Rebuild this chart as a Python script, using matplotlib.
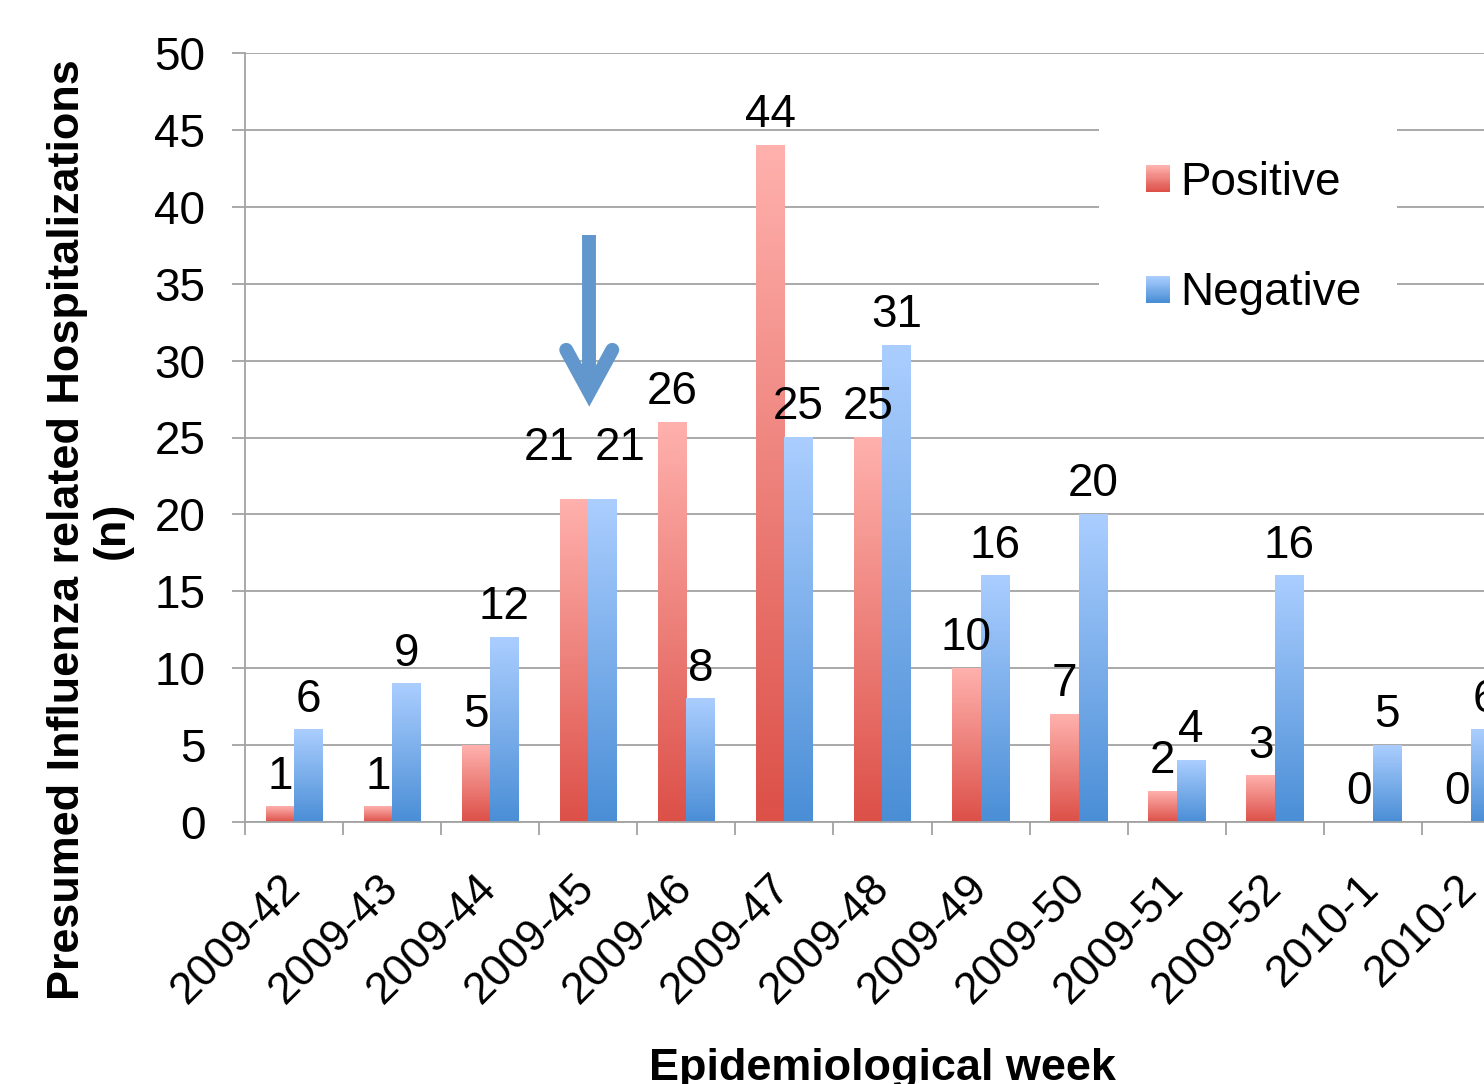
import numpy as np
import matplotlib
matplotlib.use("Agg")
import matplotlib.pyplot as plt
from matplotlib.colors import LinearSegmentedColormap, to_rgb
from matplotlib.patches import Rectangle
from matplotlib.legend_handler import HandlerBase

plt.rcParams['font.family'] = ['Liberation Sans', 'DejaVu Sans']

# ---- data -------------------------------------------------------------
weeks = ["2009-42", "2009-43", "2009-44", "2009-45", "2009-46", "2009-47",
         "2009-48", "2009-49", "2009-50", "2009-51", "2009-52", "2010-1",
         "2010-2"]
positive = [1, 1, 5, 21, 26, 44, 25, 10, 7, 2, 3, 0, 0]
negative = [6, 9, 12, 21, 8, 25, 31, 16, 20, 4, 16, 5, 6]
y_ticks = [0, 5, 10, 15, 20, 25, 30, 35, 40, 45, 50]
series_names = ["Positive", "Negative"]

# gradient colours (top, bottom) for each series
POS_TOP, POS_BOT = "#FFB1AD", "#DC5048"
NEG_TOP, NEG_BOT = "#ABCEFF", "#4A8ED6"
GRID = "#A3A3A3"
ARROW = "#6197CC"
FS = 33
TITLE_FS = 32.4

fig = plt.figure(figsize=(14.84, 10.84), dpi=100)
W, H = 1484, 1084
left, right, bottom, top = 245, 1520, 822, 53
ax = fig.add_axes([left / W, 1 - bottom / H, (right - left) / W, (bottom - top) / H])

x = np.arange(len(weeks))
bw = 0.29


def gradient_bars(bars, c_top, c_bot):
    cmap = LinearSegmentedColormap.from_list("g", [c_bot, c_top])
    grad = np.linspace(0, 1, 256).reshape(-1, 1)
    for b in bars:
        h = b.get_height()
        if h <= 0:
            continue
        x0 = b.get_x()
        ax.imshow(grad, cmap=cmap, origin="lower", aspect="auto",
                  extent=(x0, x0 + b.get_width(), 0, h), zorder=2,
                  interpolation="bilinear")


bars_pos = ax.bar(x - bw / 2, positive, bw, color="none", edgecolor="none", zorder=2)
bars_neg = ax.bar(x + bw / 2, negative, bw, color="none", edgecolor="none", zorder=2)
gradient_bars(bars_pos, POS_TOP, POS_BOT)
gradient_bars(bars_neg, NEG_TOP, NEG_BOT)

# value labels above bars (the pair at 2009-45 is spread apart)
label_offsets_pos = {3: (-18, 28)}
label_offsets_neg = {3: (13, 28)}
for i, b in enumerate(bars_pos):
    dx, dy = label_offsets_pos.get(i, (0, 13))
    ax.annotate(str(positive[i]), (b.get_x() + b.get_width() / 2, b.get_height()),
                xytext=(dx, dy), textcoords="offset points", ha="center",
                va="baseline", fontsize=FS, zorder=5, annotation_clip=False)
for i, b in enumerate(bars_neg):
    dx, dy = label_offsets_neg.get(i, (0, 13))
    ax.annotate(str(negative[i]), (b.get_x() + b.get_width() / 2, b.get_height()),
                xytext=(dx, dy), textcoords="offset points", ha="center",
                va="baseline", fontsize=FS, zorder=5, annotation_clip=False)

# downward arrow over week 2009-45
ax.plot([3.01, 3.01], [38.17, 28.2], color=ARROW, lw=10, solid_capstyle="butt", zorder=6)
ax.plot([3.01 - 0.235, 3.01, 3.01 + 0.235], [30.7, 27.95, 30.7], color=ARROW, lw=10,
        solid_capstyle="round", solid_joinstyle="miter", zorder=6)

# axes styling
ax.set_xlim(-0.5, len(weeks) - 0.5)
ax.set_ylim(0, 50)
ax.set_yticks(y_ticks)
ax.yaxis.grid(True, color=GRID, lw=1.3)
ax.set_axisbelow(True)
for s in ["top", "right"]:
    ax.spines[s].set_visible(False)
for s in ["left", "bottom"]:
    ax.spines[s].set_color(GRID)
    ax.spines[s].set_linewidth(1.3)
ax.tick_params(axis="y", direction="out", length=9.5, width=1.3, color=GRID,
               labelsize=FS, pad=19)
ax.set_xticks(x)
ax.set_xticklabels(weeks, rotation=45, ha="right", va="center",
                   rotation_mode="anchor", fontsize=32)
ax.tick_params(axis="x", which="major", length=0, pad=43)
ax.set_xticks(np.arange(-0.5, len(weeks), 1), minor=True)
ax.tick_params(axis="x", which="minor", direction="out", length=9.5, width=1.3,
               color=GRID)


# legend with gradient swatches
class GradientSwatch:
    def __init__(self, c_top, c_bot):
        self.c_top, self.c_bot = np.array(to_rgb(c_top)), np.array(to_rgb(c_bot))


class GradientHandler(HandlerBase):
    def create_artists(self, legend, orig, xdescent, ydescent, width, height,
                       fontsize, trans):
        n = 24
        arts = []
        for k in range(n):
            f = k / (n - 1)
            col = orig.c_bot * (1 - f) + orig.c_top * f
            arts.append(Rectangle((-xdescent, -ydescent + height * k / n), width,
                                  height / n * 1.05, facecolor=col,
                                  edgecolor="none", transform=trans))
        return arts


# white panel behind the legend, interrupting the gridlines
ax.add_patch(Rectangle((1099 / W, 1 - 352 / H), (1397 - 1099) / W, (352 - 112) / H,
                       transform=fig.transFigure, facecolor="white",
                       edgecolor="none", zorder=1))

handles = [GradientSwatch(POS_TOP, POS_BOT), GradientSwatch(NEG_TOP, NEG_BOT)]
leg = ax.legend(handles, series_names, handler_map={GradientSwatch: GradientHandler()},
                loc="upper left", bbox_to_anchor=(1146 / W, 1 - 161 / H),
                bbox_transform=fig.transFigure, fontsize=FS, frameon=False,
                handlelength=0.52, handleheight=0.52,
                handletextpad=0.22, labelspacing=1.45, borderpad=0,
                borderaxespad=0)
leg.set_zorder(7)

# axis titles
fig.text(90 / W, 1 - 530 / H,
         "Presumed Influenza related Hospitalizations\n(n)",
         rotation=90, ha="center", va="center", multialignment="center",
         fontsize=TITLE_FS, fontweight="bold", linespacing=1.1)
fig.text(882 / W, 4 / H, "Epidemiological week", ha="center", va="baseline",
         fontsize=TITLE_FS, fontweight="bold")

fig.savefig("out.png", dpi=100)
